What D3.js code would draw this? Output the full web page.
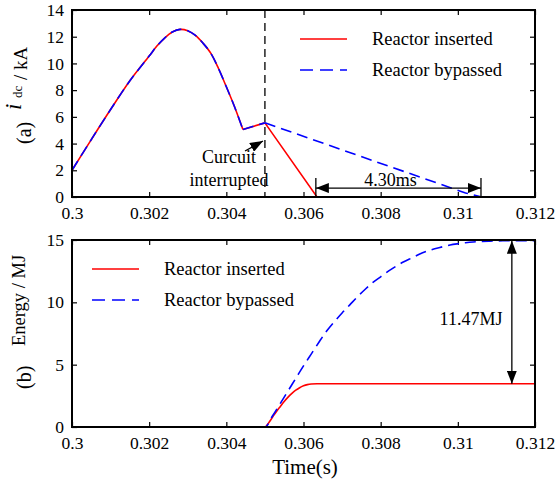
<!DOCTYPE html>
<html>
<head>
<meta charset="utf-8">
<script src="https://cdn.jsdelivr.net/npm/d3@7"></script>
</head>
<body style="margin:0;background:#fff">
<div id="chart"></div>
<script>
// x ticks shared by both panels
var xTicks = [0.3, 0.302, 0.304, 0.306, 0.308, 0.31, 0.312];
var xTickLabels = ["0.3", "0.302", "0.304", "0.306", "0.308", "0.31", "0.312"];
var yTicksA = [0, 2, 4, 6, 8, 10, 12, 14];
var yTicksB = [0, 5, 10, 15];

// (a) dc current, kA - common part before interruption
var tCommon = [0.3, 0.3005, 0.301, 0.3015, 0.302, 0.3022, 0.3024, 0.3026, 0.3028, 0.3030, 0.3032, 0.3034, 0.3036, 0.3038, 0.3040, 0.3042, 0.30443];
var iCommon = [2.0, 4.3, 6.55, 8.7, 10.55, 11.3, 11.9, 12.35, 12.55, 12.45, 12.1, 11.5, 10.75, 9.6, 8.25, 6.85, 5.05];
var tKink = [0.30443, 0.3050];
var iKink = [5.05, 5.55];
// after interruption
var tInserted = [0.3050, 0.30635, 0.3107];
var iInserted = [5.55, 0, 0];
var tBypassed = [0.3050, 0.3102, 0.31062];
var iBypassed = [5.55, 0.3, 0];

// (b) energy, MJ
var tEnergyIns = [0.3, 0.305, 0.3051, 0.3052, 0.3053, 0.3054, 0.3055, 0.3056, 0.3057, 0.3058, 0.3059, 0.3060, 0.3061, 0.3062, 0.30635, 0.312];
var eEnergyIns = [0, 0, 0.35, 0.8, 1.25, 1.65, 2.05, 2.4, 2.7, 2.95, 3.15, 3.3, 3.4, 3.45, 3.47, 3.47];
var tEnergyByp = [0.3, 0.305, 0.3052, 0.3054, 0.3056, 0.3058, 0.3060, 0.3062, 0.3064, 0.3066, 0.3068, 0.3070, 0.3072, 0.3074, 0.3076, 0.3078, 0.3080, 0.3082, 0.3084, 0.3086, 0.3088, 0.3090, 0.3092, 0.3094, 0.3096, 0.3098, 0.3100, 0.3102, 0.3104, 0.3106, 0.3108, 0.3110, 0.3115, 0.312];
var eEnergyByp = [0, 0, 0.9, 1.9, 2.9, 3.9, 4.9, 5.85, 6.8, 7.7, 8.45, 9.15, 9.8, 10.45, 11.05, 11.6, 12.05, 12.5, 12.9, 13.25, 13.55, 13.85, 14.1, 14.3, 14.45, 14.6, 14.7, 14.78, 14.84, 14.88, 14.91, 14.93, 14.94, 14.94];

var legendLabels = ["Reactor inserted", "Reactor bypassed"];
var gapLabel = "4.30ms";
var gapStart = 0.30632, gapEnd = 0.3106, gapLevel = 0.67;
var energyLabel = "11.47MJ";
var energyArrowT = 0.3114, energyTop = 14.94, energyBottom = 3.47;

var FONT = "'Liberation Serif', 'Times New Roman', serif";
var red = "#ff0000", blue = "#0000ff";
var dash = "11,6";

function pairs(ts, vs) {
    return ts.map(function (t, i) { return [t, vs[i]]; });
}

var svg = d3.select("#chart").append("svg")
    .attr("width", 556)
    .attr("height", 487)
    .attr("font-family", FONT);

var defs = svg.append("defs");
defs.append("marker")
    .attr("id", "arrow")
    .attr("markerUnits", "userSpaceOnUse")
    .attr("viewBox", "0 0 13 10")
    .attr("markerWidth", 13)
    .attr("markerHeight", 10)
    .attr("refX", 13)
    .attr("refY", 5)
    .attr("orient", "auto-start-reverse")
    .append("path")
    .attr("d", "M0,0L13,5L0,10Z")
    .attr("fill", "#000");

var x = d3.scaleLinear().domain([0.3, 0.312]).range([72, 535]);
var yA = d3.scaleLinear().domain([0, 14]).range([197, 10]);
var yB = d3.scaleLinear().domain([0, 15]).range([427, 240]);

function styleAxis(g) {
    g.attr("font-family", FONT).attr("font-size", 17.5);
    g.select(".domain").remove();
    g.selectAll(".tick line").attr("stroke", "#000").attr("stroke-width", 1.2);
    g.selectAll(".tick text").attr("fill", "#000");
}

function drawAxes(y, yTicks, top, bottom) {
    var g = svg.append("g");
    g.append("g")
        .attr("transform", "translate(0," + bottom + ")")
        .call(d3.axisBottom(x).tickValues(xTicks).tickSizeInner(-5).tickSizeOuter(0).tickPadding(10)
            .tickFormat(function (d, i) { return xTickLabels[i]; }))
        .call(styleAxis);
    g.append("g")
        .attr("transform", "translate(0," + top + ")")
        .call(d3.axisTop(x).tickValues(xTicks).tickSizeInner(-5).tickSizeOuter(0).tickFormat(""))
        .call(styleAxis);
    g.append("g")
        .attr("transform", "translate(72,0)")
        .call(d3.axisLeft(y).tickValues(yTicks).tickSizeInner(-5).tickSizeOuter(0).tickPadding(8))
        .call(styleAxis);
    g.append("g")
        .attr("transform", "translate(535,0)")
        .call(d3.axisRight(y).tickValues(yTicks).tickSizeInner(-5).tickSizeOuter(0).tickFormat(""))
        .call(styleAxis);
    return g;
}

function frame(top, bottom) {
    svg.append("rect")
        .attr("x", 72).attr("y", top)
        .attr("width", 535 - 72).attr("height", bottom - top)
        .attr("fill", "none")
        .attr("stroke", "#000")
        .attr("stroke-width", 2);
}

function drawLine(data, y, color, dashed, curve) {
    var line = d3.line()
        .x(function (d) { return x(d[0]); })
        .y(function (d) { return y(d[1]); })
        .curve(curve || d3.curveLinear);
    svg.append("path")
        .datum(data)
        .attr("d", line)
        .attr("fill", "none")
        .attr("stroke", color)
        .attr("stroke-width", 1.6)
        .attr("stroke-dasharray", dashed ? dash : null);
}

function addText(xp, yp, size, txt, anchor) {
    return svg.append("text")
        .attr("x", xp).attr("y", yp)
        .attr("font-family", FONT)
        .attr("font-size", size)
        .attr("text-anchor", anchor || "start")
        .attr("fill", "#000")
        .text(txt);
}

function legend(x0, y0) {
    [red, blue].forEach(function (c, i) {
        var yy = y0 + i * 31;
        svg.append("line")
            .attr("x1", x0).attr("x2", x0 + 47)
            .attr("y1", yy).attr("y2", yy)
            .attr("stroke", c).attr("stroke-width", 1.6)
            .attr("stroke-dasharray", i ? "13,7" : null);
        addText(x0 + 72, yy + 6, 18.5, legendLabels[i]);
    });
}

// ---------- panel (a) ----------
drawAxes(yA, yTicksA, 10, 197);

// interruption marker
svg.append("line")
    .attr("x1", x(0.305)).attr("x2", x(0.305))
    .attr("y1", 10).attr("y2", 197)
    .attr("stroke", "#000").attr("stroke-width", 1.3)
    .attr("stroke-dasharray", "8,5");

drawLine(pairs(tCommon, iCommon), yA, red, false, d3.curveCatmullRom);
drawLine(pairs(tKink, iKink), yA, red, false);
drawLine(pairs(tInserted, iInserted), yA, red, false);
drawLine(pairs(tCommon, iCommon), yA, blue, true, d3.curveCatmullRom);
drawLine(pairs(tKink, iKink), yA, blue, true);
drawLine(pairs(tBypassed, iBypassed), yA, blue, true);

frame(10, 197);
legend(300, 39);

// 4.30ms span
[gapStart, gapEnd].forEach(function (t) {
    svg.append("line")
        .attr("x1", x(t)).attr("x2", x(t))
        .attr("y1", yA(0) - 19).attr("y2", yA(0))
        .attr("stroke", "#000").attr("stroke-width", 1.3);
});
svg.append("line")
    .attr("x1", x(gapStart)).attr("x2", x(gapEnd))
    .attr("y1", yA(gapLevel)).attr("y2", yA(gapLevel))
    .attr("stroke", "#000").attr("stroke-width", 1.3)
    .attr("marker-start", "url(#arrow)")
    .attr("marker-end", "url(#arrow)");
addText((x(gapStart) + x(gapEnd)) / 2 - 8, yA(gapLevel) - 2, 18, gapLabel, "middle");

// circuit interrupted note
svg.append("line")
    .attr("x1", x(0.304484)).attr("y1", yA(3.44))
    .attr("x2", x(0.30495)).attr("y2", yA(4.19))
    .attr("stroke", "#000").attr("stroke-width", 1.3)
    .attr("marker-end", "url(#arrow)");
addText(x(0.30407), 163, 18, "Curcuit", "middle");
addText(x(0.30407), 186, 18, "interrupted", "middle");

// rotated y-label pieces
function rotText(bx, by, size, txt, italic) {
    svg.append("text")
        .attr("transform", "translate(" + bx + "," + by + ") rotate(-90)")
        .attr("font-family", FONT)
        .attr("font-size", size)
        .attr("font-style", italic ? "italic" : null)
        .attr("fill", "#000")
        .text(txt);
}
rotText(31, 144, 20, "(a)");
rotText(21, 110, 23, "i", true);
rotText(22, 98, 13, "dc");
rotText(27, 80, 19, "/ kA");

// ---------- panel (b) ----------
drawAxes(yB, yTicksB, 240, 427);

drawLine(pairs(tEnergyIns, eEnergyIns), yB, red, false, d3.curveMonotoneX);
drawLine(pairs(tEnergyByp, eEnergyByp), yB, blue, true, d3.curveMonotoneX);

frame(240, 427);
legend(92, 269);

svg.append("line")
    .attr("x1", x(energyArrowT)).attr("x2", x(energyArrowT))
    .attr("y1", yB(energyTop)).attr("y2", yB(energyBottom))
    .attr("stroke", "#000").attr("stroke-width", 1.3)
    .attr("marker-start", "url(#arrow)")
    .attr("marker-end", "url(#arrow)");
addText(471, 325, 18, energyLabel, "middle");

rotText(31, 389, 20, "(b)");
rotText(25, 346, 18.5, "Energy / MJ");

// x label
addText(305, 474, 21, "Time(s)", "middle");
</script>
</body>
</html>
